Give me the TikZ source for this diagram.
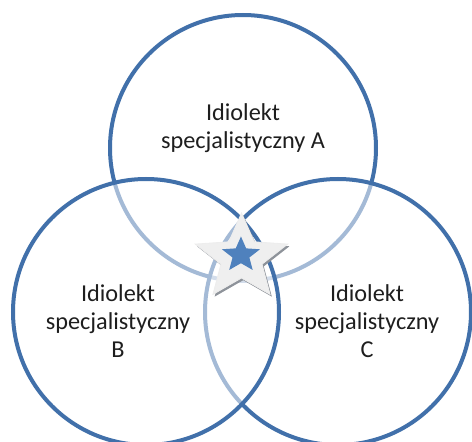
\documentclass[tikz,border=0pt]{standalone}
\usepackage{fontspec}
\setmainfont{Carlito}
\definecolor{ringblue}{HTML}{4170AA}
\definecolor{starblue}{HTML}{4F81BD}
\definecolor{starface}{HTML}{EFEFEF}
\definecolor{starshade}{HTML}{8E939A}
\definecolor{txt}{HTML}{1E1E1E}
\tikzset{
  ring/.style={draw=ringblue, line width=3pt, fill=white, fill opacity=0.52},
  lbl/.style={align=center, text=txt, font=\fontsize{18.2pt}{21pt}\selectfont, inner sep=0pt},
}
\def\starpath#1#2{(90:#1) -- (126:#2) -- (162:#1) -- (198:#2) -- (234:#1) -- (270:#2) -- (306:#1) -- (342:#2) -- (18:#1) -- (54:#2) -- cycle}
\begin{document}
\begin{tikzpicture}[x=0.75pt,y=-0.75pt]
\useasboundingbox (0,0) rectangle (472,442);
% circles (order gives the lighter arcs inside overlaps)
\node[ring, circle, minimum size=266*0.75pt, inner sep=0pt] (A) at (243,148) {};
\node[ring, circle, minimum size=266*0.75pt, inner sep=0pt] (C) at (338,312) {};
\node[ring, circle, minimum size=266*0.75pt, inner sep=0pt] (B) at (146,312) {};
% star
\begin{scope}[shift={(241.5,258)}, x=0.81pt, y=0.75pt]
  \fill[starshade] [shift={(1.6,-2.2)}] \starpath{45}{20};
  \fill[starface, draw=white!93!black, line width=0.6pt] \starpath{45}{20};
  \fill[starblue] [shift={(-0.5,3)}] \starpath{18.5}{8.2};
\end{scope}
% labels
\node[lbl] (tA) at (243,128) {Idiolekt\\specjalistyczny A};
\node[lbl] (tB) at (118,321) {Idiolekt\\specjalistyczny\\B};
\node[lbl] (tC) at (367,321) {Idiolekt\\specjalistyczny\\C};
\end{tikzpicture}
\end{document}
